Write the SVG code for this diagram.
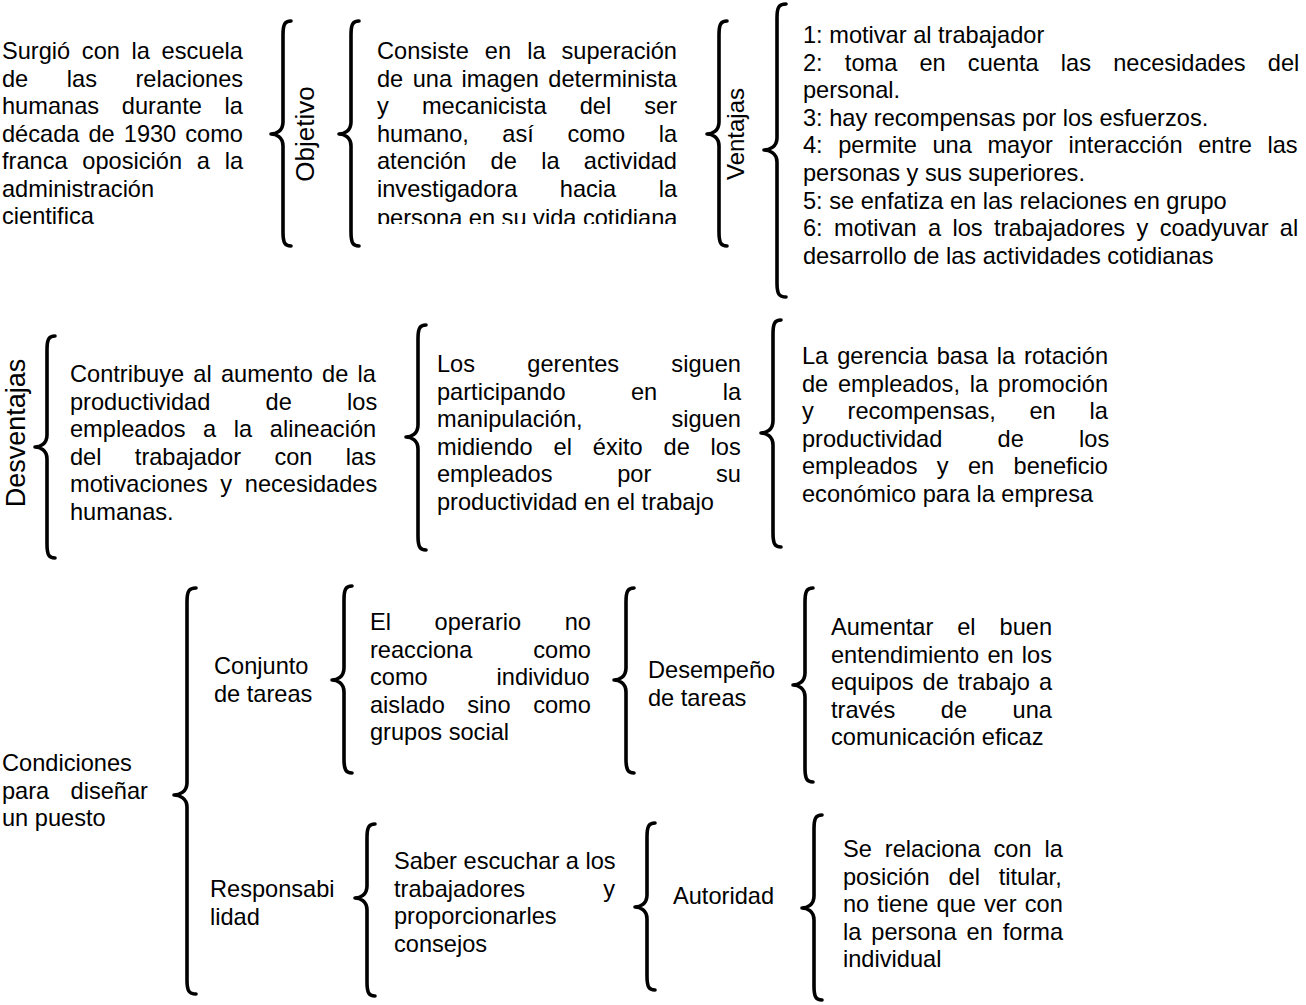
<svg xmlns="http://www.w3.org/2000/svg" width="1306" height="1005" viewBox="0 0 1306 1005">
<style>
text { font-family: "Liberation Sans", Arial, sans-serif; font-size: 23.6px; fill: #000; }
.lbl { font-size: 26px; }
.brace { fill: none; stroke: #000; stroke-width: 3.6; stroke-linecap: round; stroke-linejoin: round; }
</style>
<defs>
<clipPath id="clipB"><rect x="370" y="0" width="320" height="224"/></clipPath>
</defs>
<rect width="1306" height="1005" fill="#fff"/>

<g id="connectors">
<path class="brace" d="M291,21 C285,21 283,24 283,35 L283,122 C283,131 276,134 271,134 C276,134 283,137 283,146 L283,232 C283,243 285,246 291,246"/>
<path class="brace" d="M359,21 C353,21 351,24 351,35 L351,122 C351,131 344,134 339,134 C344,134 351,137 351,146 L351,232 C351,243 353,246 359,246"/>
<path class="brace" d="M727,21 C721,21 719,24 719,35 L719,122 C719,131 712,134 707,134 C712,134 719,137 719,146 L719,232 C719,243 721,246 727,246"/>
<path class="brace" d="M786,4 C779,4 777,7 777,18 L777,138 C777,147 769,150 764,150 C769,150 777,153 777,162 L777,283 C777,294 779,297 786,297"/>
<path class="brace" d="M55,336 C49,336 47,339 47,350 L47,435 C47,444 40,447 35,447 C40,447 47,450 47,459 L47,544 C47,555 49,558 55,558"/>
<path class="brace" d="M426,325 C420,325 418,328 418,339 L418,425 C418,434 411,437 406,437 C411,437 418,440 418,449 L418,536 C418,547 420,550 426,550"/>
<path class="brace" d="M781,320 C775,320 773,323 773,334 L773,421 C773,430 766,433 761,433 C766,433 773,436 773,445 L773,533 C773,544 775,547 781,547"/>
<path class="brace" d="M196,588 C189,588 187,591 187,602 L187,783 C187,792 179,795 174,795 C179,795 187,798 187,807 L187,980 C187,991 189,994 196,994"/>
<path class="brace" d="M352,586 C346,586 344,589 344,600 L344,668 C344,677 337,680 332,680 C337,680 344,683 344,692 L344,759 C344,770 346,773 352,773"/>
<path class="brace" d="M634,588 C628,588 626,591 626,602 L626,668 C626,677 619,680 614,680 C619,680 626,683 626,692 L626,759 C626,770 628,773 634,773"/>
<path class="brace" d="M813,588 C807,588 805,591 805,602 L805,673 C805,682 798,685 793,685 C798,685 805,688 805,697 L805,768 C805,779 807,782 813,782"/>
<path class="brace" d="M375,824 C369,824 367,827 367,838 L367,886 C367,895 360,898 355,898 C360,898 367,901 367,910 L367,982 C367,993 369,996 375,996"/>
<path class="brace" d="M655,823 C649,823 647,826 647,837 L647,895 C647,904 640,907 635,907 C640,907 647,910 647,919 L647,976 C647,987 649,990 655,990"/>
<path class="brace" d="M822,815 C816,815 814,818 814,829 L814,896 C814,905 807,908 802,908 C807,908 814,911 814,920 L814,986 C814,997 816,1000 822,1000"/>
</g>

<g id="surgio">
<text x="2" y="59" style="word-spacing:5.1px">Surgió con la escuela</text>
<text x="2" y="86.5" style="word-spacing:32px">de las relaciones</text>
<text x="2" y="114" style="word-spacing:16.2px">humanas durante la</text>
<text x="2" y="141.5" style="word-spacing:2.5px">década de 1930 como</text>
<text x="2" y="169" style="word-spacing:8.2px">franca oposición a la</text>
<text x="2" y="196.5">administración</text>
<text x="2" y="224">cientifica</text>
</g>

<g id="objetivo">
<text class="lbl" transform="translate(314,134) rotate(-90)" text-anchor="middle">Objetivo</text>
</g>

<g id="consiste" clip-path="url(#clipB)">
<text x="377" y="59" style="word-spacing:9.5px">Consiste en la superación</text>
<text x="377" y="86.5" style="word-spacing:2.9px">de una imagen determinista</text>
<text x="377" y="114" style="word-spacing:26.6px">y mecanicista del ser</text>
<text x="377" y="141.5" style="word-spacing:27px">humano, así como la</text>
<text x="377" y="169" style="word-spacing:17.8px">atención de la actividad</text>
<text x="377" y="196.5" style="word-spacing:35.9px">investigadora hacia la</text>
<text x="377" y="226">persona en su vida cotidiana</text>
</g>

<g id="ventajas">
<text transform="translate(744,134) rotate(-90)" text-anchor="middle" style="font-size:24px">Ventajas</text>
</g>

<g id="lista-ventajas">
<text x="803" y="43">1: motivar al trabajador</text>
<text x="803" y="70.6" style="word-spacing:15.6px">2: toma en cuenta las necesidades del</text>
<text x="803" y="98.2">personal.</text>
<text x="803" y="125.8">3: hay recompensas por los esfuerzos.</text>
<text x="803" y="153.4" style="word-spacing:9px">4: permite una mayor interacción entre las</text>
<text x="803" y="181">personas y sus superiores.</text>
<text x="803" y="208.6">5: se enfatiza en las relaciones en grupo</text>
<text x="803" y="236.2" style="word-spacing:4.8px">6: motivan a los trabajadores y coadyuvar al</text>
<text x="803" y="263.8">desarrollo de las actividades cotidianas</text>
</g>

<g id="desventajas">
<text transform="translate(25,433) rotate(-90)" text-anchor="middle" style="font-size:27px">Desventajas</text>
</g>

<g id="contribuye">
<text x="70" y="382" style="word-spacing:2.7px">Contribuye al aumento de la</text>
<text x="70" y="409.5" style="word-spacing:48.7px">productividad de los</text>
<text x="70" y="437" style="word-spacing:11.1px">empleados a la alineación</text>
<text x="70" y="464.5" style="word-spacing:26.8px">del trabajador con las</text>
<text x="70" y="492" style="word-spacing:6.1px">motivaciones y necesidades</text>
<text x="70" y="519.5">humanas.</text>
</g>

<g id="gerentes">
<text x="437" y="372" style="word-spacing:45.7px">Los gerentes siguen</text>
<text x="437" y="399.5" style="word-spacing:58.9px">participando en la</text>
<text x="437" y="427" style="word-spacing:82.3px">manipulación, siguen</text>
<text x="437" y="454.5" style="word-spacing:14.3px">midiendo el éxito de los</text>
<text x="437" y="482" style="word-spacing:58.2px">empleados por su</text>
<text x="437" y="509.5">productividad en el trabajo</text>
</g>

<g id="gerencia">
<text x="802" y="364" style="word-spacing:2.4px">La gerencia basa la rotación</text>
<text x="802" y="391.5" style="word-spacing:3.2px">de empleados, la promoción</text>
<text x="802" y="419" style="word-spacing:27.2px">y recompensas, en la</text>
<text x="802" y="446.5" style="word-spacing:48.7px">productividad de los</text>
<text x="802" y="474" style="word-spacing:12.8px">empleados y en beneficio</text>
<text x="802" y="501.5">económico para la empresa</text>
</g>

<g id="condiciones">
<text x="2" y="771">Condiciones</text>
<text x="2" y="798.5" style="word-spacing:14.8px">para diseñar</text>
<text x="2" y="826">un puesto</text>
</g>

<g id="conjunto">
<text x="214" y="674">Conjunto</text>
<text x="214" y="701.5">de tareas</text>
</g>

<g id="operario">
<text x="370" y="630" style="word-spacing:37px">El operario no</text>
<text x="370" y="657.5" style="word-spacing:54.4px">reacciona como</text>
<text x="370" y="685" style="word-spacing:62.3px">como individuo</text>
<text x="370" y="712.5" style="word-spacing:16px">aislado sino como</text>
<text x="370" y="740">grupos social</text>
</g>

<g id="desempeno">
<text x="648" y="678">Desempeño</text>
<text x="648" y="705.5">de tareas</text>
</g>

<g id="aumentar">
<text x="831" y="635" style="word-spacing:17.4px">Aumentar el buen</text>
<text x="831" y="662.5" style="word-spacing:1.6px">entendimiento en los</text>
<text x="831" y="690" style="word-spacing:2.4px">equipos de trabajo a</text>
<text x="831" y="717.5" style="word-spacing:39px">través de una</text>
<text x="831" y="745">comunicación eficaz</text>
</g>

<g id="responsabilidad">
<text x="210" y="897">Responsabi</text>
<text x="210" y="924.5">lidad</text>
</g>

<g id="escuchar">
<text x="394" y="869">Saber escuchar a los</text>
<text x="394" y="896.5" style="word-spacing:71.5px">trabajadores y</text>
<text x="394" y="924">proporcionarles</text>
<text x="394" y="951.5">consejos</text>
</g>

<g id="autoridad">
<text x="673" y="904">Autoridad</text>
</g>

<g id="relaciona">
<text x="843" y="857" style="word-spacing:6.4px">Se relaciona con la</text>
<text x="843" y="884.5" style="word-spacing:12.3px">posición del titular,</text>
<text x="843" y="912" style="word-spacing:1.5px">no tiene que ver con</text>
<text x="843" y="939.5" style="word-spacing:3.4px">la persona en forma</text>
<text x="843" y="967">individual</text>
</g>
</svg>
